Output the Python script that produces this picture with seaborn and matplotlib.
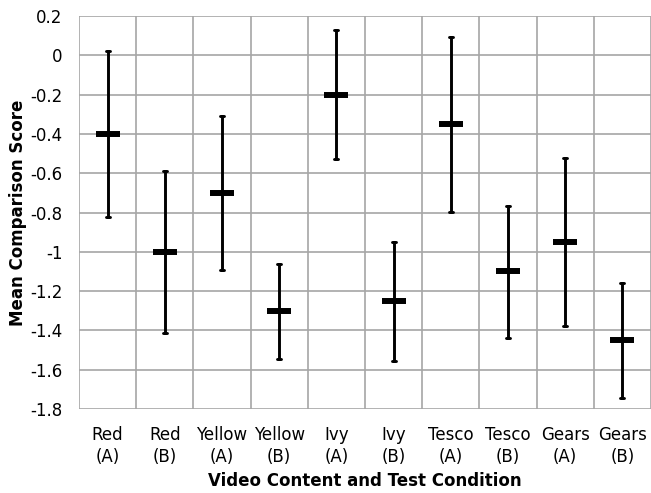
import pandas as pd
import matplotlib
matplotlib.use("Agg")
import matplotlib.pyplot as plt
import seaborn as sns

# chart values
categories = ["Red\n(A)", "Red\n(B)", "Yellow\n(A)", "Yellow\n(B)", "Ivy\n(A)",
              "Ivy\n(B)", "Tesco\n(A)", "Tesco\n(B)", "Gears\n(A)", "Gears\n(B)"]
means = [-0.40, -1.00, -0.70, -1.30, -0.20, -1.25, -0.35, -1.10, -0.95, -1.45]
upper = [0.02, -0.59, -0.31, -1.06, 0.13, -0.95, 0.095, -0.765, -0.525, -1.16]
lower = [-0.825, -1.415, -1.095, -1.545, -0.53, -1.555, -0.795, -1.44, -1.38, -1.745]
y_ticks = [0.2, 0, -0.2, -0.4, -0.6, -0.8, -1, -1.2, -1.4, -1.6, -1.8]
y_tick_labels = ["0.2", "0", "-0.2", "-0.4", "-0.6", "-0.8", "-1", "-1.2", "-1.4", "-1.6", "-1.8"]

# long form: median of (lower, mean, upper) is the mean, 100% interval spans lower..upper
rows = []
for c, lo, m, hi in zip(categories, lower, means, upper):
    for v in (lo, m, hi):
        rows.append({"cond": c, "score": v})
df = pd.DataFrame(rows)

sns.set_style("white")
plt.rcParams["font.family"] = ["DejaVu Sans"]
plt.rcParams["axes.unicode_minus"] = False
plt.rcParams["text.color"] = "black"
plt.rcParams["axes.labelcolor"] = "black"
plt.rcParams["xtick.color"] = "black"
plt.rcParams["ytick.color"] = "black"

fig = plt.figure(figsize=(6.51, 4.93), dpi=100)
ax = fig.add_axes([0.1214, 0.1704, 0.8786, 0.7971])

sns.pointplot(data=df, x="cond", y="score", order=categories,
              estimator="median", errorbar=("pi", 100),
              color="black", linestyle="none", marker="_",
              markersize=17, markeredgewidth=4.3,
              capsize=0.07, err_kws={"linewidth": 2.1}, ax=ax)

ax.set_xlim(-0.5, 9.5)
ax.set_ylim(-1.8, 0.2)
ax.set_yticks(y_ticks)
ax.set_yticklabels(y_tick_labels)
ax.set_xticks([i - 0.5 for i in range(11)], minor=True)
ax.grid(False)
ax.grid(True, axis="y", which="major", color="#a6a6a6", linewidth=1.2)
ax.grid(True, axis="x", which="minor", color="#a6a6a6", linewidth=1.2)
ax.set_axisbelow(True)
for s in ax.spines.values():
    s.set_visible(False)

ax.tick_params(axis="both", which="both", length=0, labelsize=12, labelcolor="black")
ax.tick_params(axis="y", pad=12)
ax.tick_params(axis="x", pad=12)
for t in ax.get_xticklabels():
    t.set_linespacing(1.3)

ax.set_xlabel("Video Content and Test Condition", fontsize=12, fontweight="bold",
              labelpad=4.5, color="black")
ax.set_ylabel("Mean Comparison Score", fontsize=12, fontweight="bold",
              labelpad=2, color="black")

fig.savefig("out.png", dpi=100)
